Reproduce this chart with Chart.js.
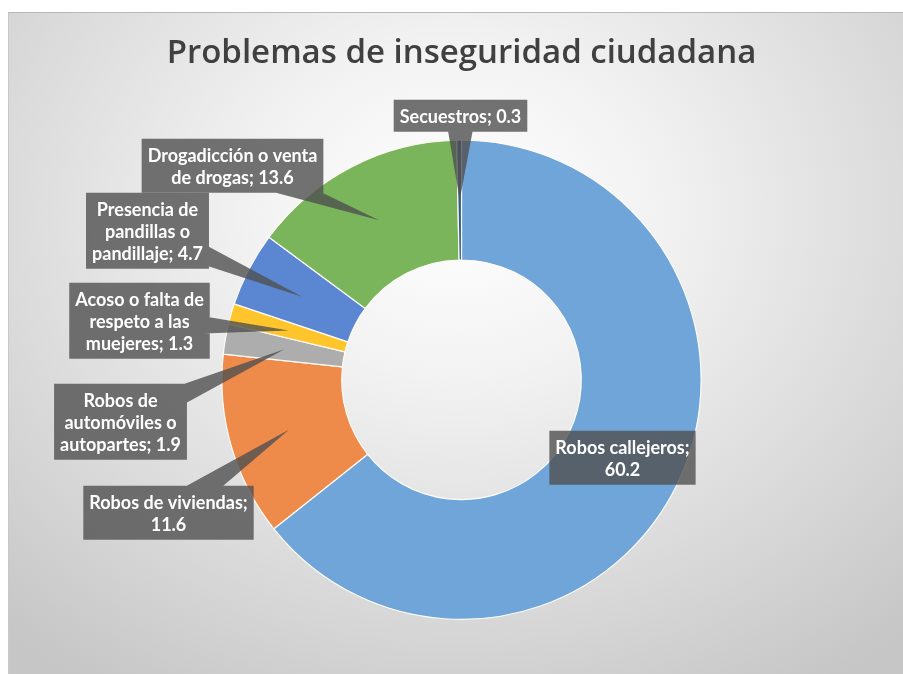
<!DOCTYPE html>
<html>
<head>
<meta charset="utf-8">
<script src="https://cdn.jsdelivr.net/npm/chart.js@4/dist/chart.umd.min.js"></script>
<style>
  html, body { margin: 0; padding: 0; background: #fff; }
  #frame {
    position: absolute; left: 8px; top: 12px; width: 895px; height: 662px;
    background: radial-gradient(ellipse 75% 85% at 50% 30%, #ffffff 0%, #f2f2f2 30%, #d6d6d6 75%, #c6c6c6 100%);
    border-top: 1px solid #b8b8b8; border-left: 1px solid #c8c8c8;
    box-sizing: border-box;
  }
</style>
</head>
<body>
<div id="frame"><canvas id="chart"></canvas></div>
<script>
const categories = [
    'Robos callejeros',
    'Robos de viviendas',
    'Robos de automóviles o autopartes',
    'Acoso o falta de respeto a las muejeres',
    'Presencia de pandillas o pandillaje',
    'Drogadicción o venta de drogas',
    'Secuestros'
];
const values = [60.2, 11.6, 1.9, 1.3, 4.7, 13.6, 0.3];
const colors = ['#6FA5D9', '#EE8A4A', '#ADADAD', '#FFC52A', '#5B86D2', '#7AB55C', '#2E5C8A'];

// callout layout: words per line, box centre offset from the doughnut centre
const lineWords = [[2, 1], [3, 1], [2, 2, 2], [4, 3, 2], [2, 2, 2], [3, 3], [2]];
const boxOffsets = [[161, 78], [-293, 133], [-341, 42], [-322, -59], [-314, -149], [-229, -214], [-1, -264]];

const calloutPlugin = {
    id: 'callouts',
    afterDatasetsDraw(chart) {
        const ctx = chart.ctx;
        const meta = chart.getDatasetMeta(0);
        const lineH = 22, padX = 6, padY = 5;
        ctx.save();
        ctx.font = 'bold 18px Lato';
        meta.data.forEach((arc, i) => {
            const words = (categories[i] + '; ' + values[i]).split(' ');
            const lines = [];
            let k = 0;
            lineWords[i].forEach(n => { lines.push(words.slice(k, k + n).join(' ')); k += n; });
            const w = Math.max(...lines.map(l => ctx.measureText(l).width)) + padX * 2;
            const h = lines.length * lineH + padY * 2;
            const cx = arc.x + boxOffsets[i][0];
            const cy = arc.y + boxOffsets[i][1];
            const x0 = cx - w / 2, y0 = cy - h / 2;
            const tip = arc.tooltipPosition();

            ctx.beginPath();
            ctx.moveTo(x0, y0);
            ctx.lineTo(x0 + w, y0);
            ctx.lineTo(x0 + w, y0 + h);
            ctx.lineTo(x0, y0 + h);
            ctx.closePath();
            const inside = tip.x > x0 && tip.x < x0 + w && tip.y > y0 && tip.y < y0 + h;
            if (!inside) {
                const dx = tip.x - cx, dy = tip.y - cy;
                const len = Math.hypot(dx, dy);
                const px = -dy / len * 15, py = dx / len * 15;
                let p1 = [cx + px, cy + py], p2 = [cx - px, cy - py];
                const cross = (p2[0] - p1[0]) * (tip.y - p1[1]) - (p2[1] - p1[1]) * (tip.x - p1[0]);
                if (cross < 0) { const t = p1; p1 = p2; p2 = t; }
                ctx.moveTo(p1[0], p1[1]);
                ctx.lineTo(p2[0], p2[1]);
                ctx.lineTo(tip.x, tip.y);
                ctx.closePath();
            }
            ctx.fillStyle = 'rgba(80,80,80,0.8)';
            ctx.fill('nonzero');

            ctx.fillStyle = '#ffffff';
            ctx.textAlign = 'center';
            ctx.textBaseline = 'middle';
            lines.forEach((l, j) => {
                ctx.fillText(l, cx, y0 + padY + lineH * j + lineH / 2 + 1);
            });
        });
        ctx.restore();
    }
};

new Chart(document.getElementById('chart'), {
    type: 'doughnut',
    data: {
        labels: categories,
        datasets: [{
            data: values,
            backgroundColor: colors,
            borderColor: '#fdfbf4',
            borderWidth: 1.2,
            hoverOffset: 0
        }]
    },
    options: {
        responsive: true,
        maintainAspectRatio: false,
        animation: false,
        events: [],
        cutout: '50%',
        layout: { padding: { left: 11, right: 0, top: 0, bottom: 54 } },
        plugins: {
            legend: { display: false },
            tooltip: { enabled: false },
            title: {
                display: true,
                text: 'Problemas de inseguridad ciudadana',
                color: '#404040',
                font: { family: 'Open Sans', size: 33, weight: '600' },
                padding: { top: 21, bottom: 66 }
            }
        }
    },
    plugins: [calloutPlugin]
});
</script>
</body>
</html>
